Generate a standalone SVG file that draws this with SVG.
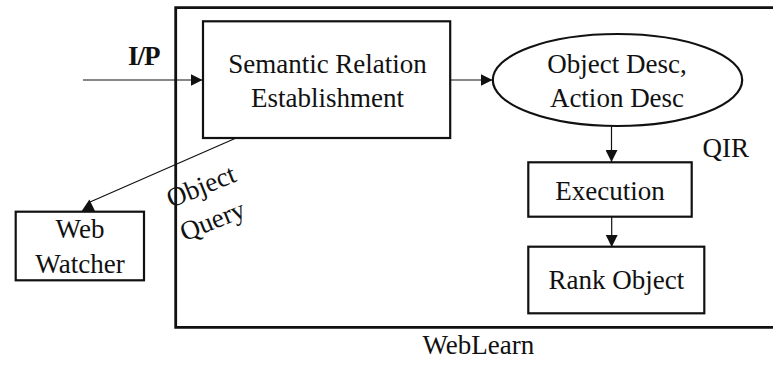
<svg xmlns="http://www.w3.org/2000/svg" width="773" height="369" viewBox="0 0 773 369">
  <style>
    text { font-family: "Liberation Serif", "Times New Roman", serif; font-size: 27px; fill: #111; }
    .mid { text-anchor: middle; }
    .bold { font-weight: bold; }
    .frame { fill: none; stroke: #111; stroke-width: 2.8; }
    .box { fill: #fff; stroke: #111; stroke-width: 2.2; }
    .wire { fill: none; stroke: #111; stroke-width: 1.2; }
  </style>
  <defs>
    <marker id="head" viewBox="0 0 12 12" refX="12" refY="6" markerWidth="12" markerHeight="12" markerUnits="userSpaceOnUse" orient="auto">
      <path d="M0,0 L12,6 L0,12 Z" fill="#111"/>
    </marker>
  </defs>

  <rect width="773" height="369" fill="#fff"/>

  <!-- WebLearn system boundary (open on the right) -->
  <g id="weblearn">
    <path class="frame" d="M780,7.7 H175.7 V327.3 H780"/>
    <text x="422.5" y="354">WebLearn</text>
  </g>

  <g id="semantic-relation">
    <rect class="box" x="203" y="21.3" width="247.2" height="116.7"/>
    <text class="mid" x="327.5" y="73.3">Semantic Relation</text>
    <text class="mid" x="327.5" y="106.7">Establishment</text>
  </g>

  <g id="object-action-desc">
    <ellipse class="box" cx="617.5" cy="80" rx="124.7" ry="46"/>
    <text class="mid" x="617" y="73.3">Object Desc,</text>
    <text class="mid" x="617" y="107.3">Action Desc</text>
  </g>

  <g id="execution">
    <rect class="box" x="528.3" y="162.3" width="163.4" height="54.4"/>
    <text class="mid" x="610" y="200">Execution</text>
  </g>

  <g id="rank-object">
    <rect class="box" x="528.3" y="246.7" width="176" height="66.6"/>
    <text class="mid" x="616.3" y="289.3">Rank Object</text>
  </g>

  <g id="web-watcher">
    <rect class="box" x="15.7" y="211.7" width="128.3" height="68.6"/>
    <text class="mid" x="80" y="238.3">Web</text>
    <text class="mid" x="80" y="273.3">Watcher</text>
  </g>

  <g id="connectors">
    <line class="wire" x1="83" y1="80" x2="202.5" y2="80" marker-end="url(#head)"/>
    <line class="wire" x1="450.2" y1="80" x2="492.5" y2="80" marker-end="url(#head)"/>
    <line class="wire" x1="611.5" y1="126" x2="611.5" y2="162" marker-end="url(#head)"/>
    <line class="wire" x1="611.7" y1="216.7" x2="611.7" y2="247" marker-end="url(#head)"/>
    <line class="wire" x1="235" y1="138.5" x2="90" y2="202"/>
    <polygon points="81.7,211 89.4,199.5 95,211" fill="#111"/>
  </g>

  <g id="labels">
    <text class="bold" x="128" y="65" letter-spacing="-1">I/P</text>
    <text x="702.5" y="156.7">QIR</text>
    <g transform="translate(171,208) rotate(-22)">
      <text x="0" y="0">Object</text>
      <text x="0" y="36">Query</text>
    </g>
  </g>
</svg>
